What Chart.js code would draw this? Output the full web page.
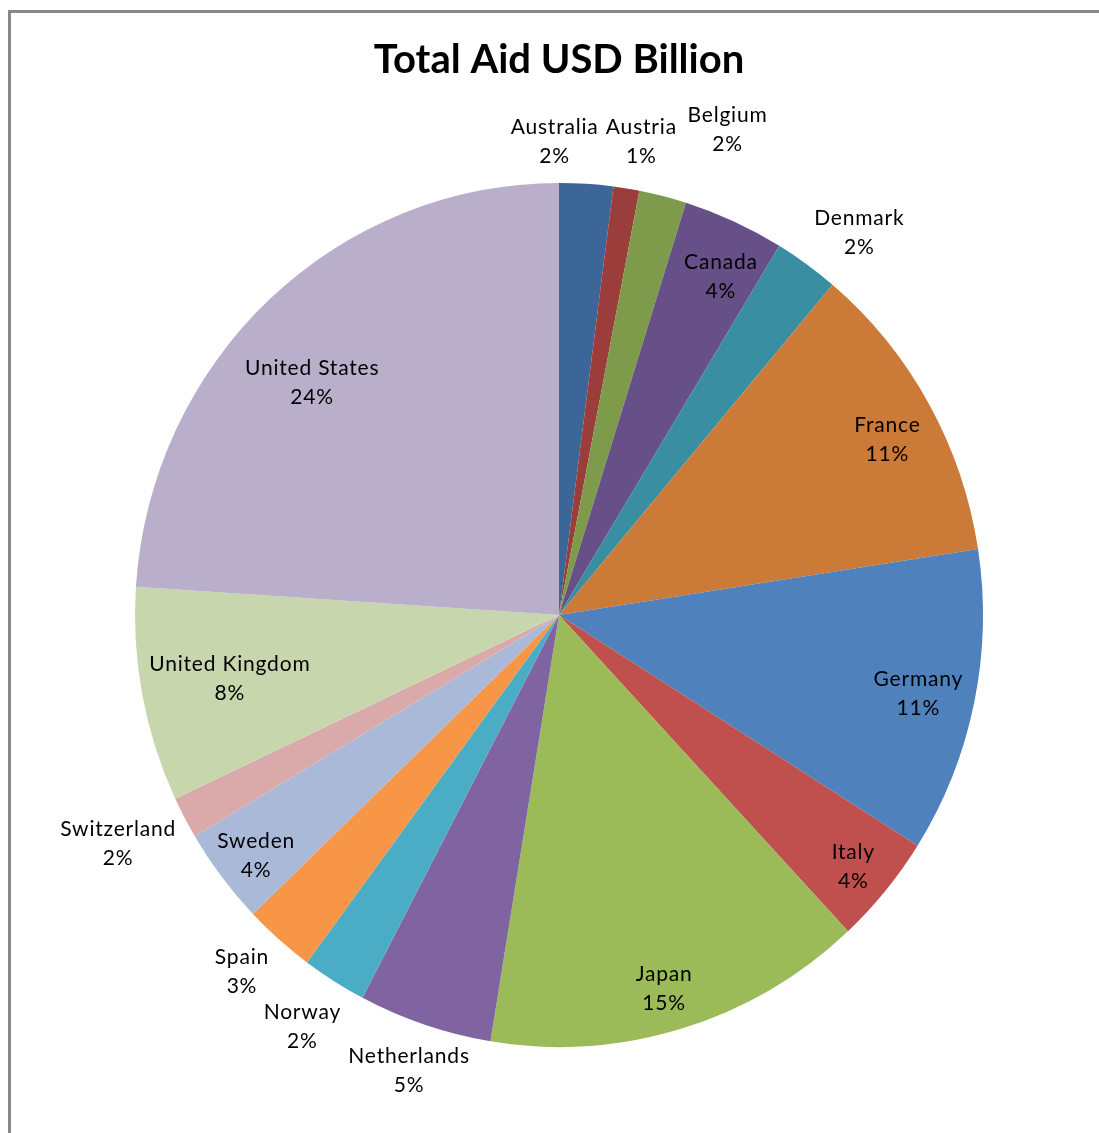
<!DOCTYPE html>
<html>
<head>
<meta charset="utf-8">
<title>Total Aid USD Billion</title>
<script src="https://cdn.jsdelivr.net/npm/chart.js@4.4.1/dist/chart.umd.min.js"></script>
<style>
  html, body { margin: 0; padding: 0; background: #fff; }
  #wrap { width: 1099px; height: 1133px; }
</style>
</head>
<body>
<div id="wrap"><canvas id="aidChart" width="1099" height="1133"></canvas></div>
<script>
// Donor countries and their aid, USD billion
const countries = ['Australia', 'Austria', 'Belgium', 'Canada', 'Denmark', 'France', 'Germany', 'Italy',
  'Japan', 'Netherlands', 'Norway', 'Spain', 'Sweden', 'Switzerland', 'United Kingdom', 'United States'];
const aidBillions = [2.5, 1.2, 2.2, 4.7, 3.0, 13.9, 13.9, 5.0, 17.7, 6.2, 3.0, 3.3, 4.4, 1.9, 9.8, 29.2];

// Office 2007 style palette: darker shades, base colours, lighter tints
const sliceColors = ['#3C6598', '#9B3D3B', '#7D9B4A', '#674F87', '#3A8EA2', '#CB7A37',
  '#4F81BD', '#C0504D', '#9BBB59', '#8064A2', '#4BACC6', '#F79646',
  '#AAB9D7', '#D9AAA9', '#C7D6AC', '#B9AFCA'];

// label placement: distance from centre as a share of the radius, then a small nudge in px
const labelRadius = [1.12, 1.132, 1.132, 0.88, 1.132, 0.88, 0.88, 0.88,
  0.88, 1.132, 1.132, 1.132, 0.88, 1.132, 0.79, 0.8];
const labelNudge = [[-35, 1], [6, 1], [51, -20], [8, 2], [20, 7], [3, 7], [-6, 3], [7, 14],
  [-3, 17], [2, 0], [-2, 5], [0, -4], [-6, 15], [-17, 4], [0, 2], [-15, 15]];

// the pie is drawn a touch taller than wide
const stretchY = 1.019;

const total = aidBillions.reduce((a, b) => a + b, 0);

const frame = {
  id: 'frame',
  beforeDraw(chart) {
    const c = chart.ctx;
    c.save();
    c.strokeStyle = '#888888';
    c.lineWidth = 3;
    c.strokeRect(9.5, 11.5, 1300, 1300);
    c.restore();
  }
};

const stretch = {
  id: 'stretch',
  beforeDatasetsDraw(chart) {
    const c = chart.ctx;
    const cy = (chart.chartArea.top + chart.chartArea.bottom) / 2;
    c.save();
    c.translate(0, cy);
    c.scale(1, stretchY);
    c.translate(0, -cy);
  },
  afterDatasetsDraw(chart) {
    chart.ctx.restore();
  }
};

const sliceLabels = {
  id: 'sliceLabels',
  afterDatasetsDraw(chart) {
    const c = chart.ctx;
    const arcs = chart.getDatasetMeta(0).data;
    c.save();
    c.font = '21px Lato';
    c.letterSpacing = '0.8px';
    c.fillStyle = '#000';
    c.textAlign = 'center';
    c.textBaseline = 'middle';
    arcs.forEach((arc, i) => {
      const p = arc.getProps(['x', 'y', 'startAngle', 'endAngle', 'outerRadius'], true);
      const mid = (p.startAngle + p.endAngle) / 2;
      const r = p.outerRadius * labelRadius[i];
      const x = p.x + Math.cos(mid) * r + labelNudge[i][0];
      const y = p.y + Math.sin(mid) * r + labelNudge[i][1];
      const pct = Math.round(aidBillions[i] / total * 100) + '%';
      c.fillText(countries[i], x, y - 14.5);
      c.fillText(pct, x, y + 14.5);
    });
    c.restore();
  }
};

new Chart(document.getElementById('aidChart'), {
  type: 'pie',
  data: {
    labels: countries,
    datasets: [{
      data: aidBillions,
      backgroundColor: sliceColors,
      borderWidth: 0
    }]
  },
  options: {
    responsive: false,
    animation: false,
    layout: { padding: { top: 0, left: 135, right: 116, bottom: 94 } },
    plugins: {
      legend: { display: false },
      tooltip: { enabled: false },
      title: {
        display: true,
        text: 'Total Aid USD Billion',
        color: '#000',
        font: { family: 'Lato', size: 40, weight: 'bold', lineHeight: 1.2 },
        padding: { top: 36, bottom: 107 }
      }
    }
  },
  plugins: [frame, stretch, sliceLabels]
});
</script>
</body>
</html>
